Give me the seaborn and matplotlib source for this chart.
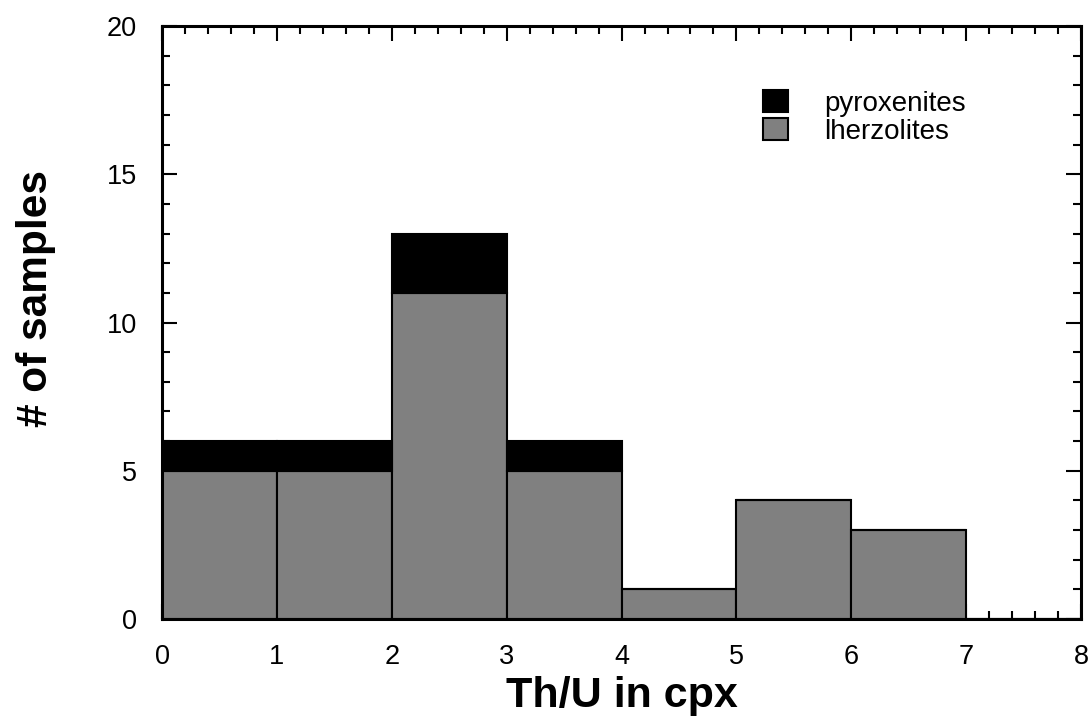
import numpy as np
import pandas as pd
import matplotlib
matplotlib.use("Agg")
import matplotlib.pyplot as plt
import seaborn as sns
from matplotlib.patches import Patch
from matplotlib.ticker import MultipleLocator

bin_left = [0, 1, 2, 3, 4, 5, 6, 7]
lherzolites = [5, 5, 11, 5, 1, 4, 3, 0]
pyroxenites = [1, 1, 2, 1, 0, 0, 0, 0]
groups = ["pyroxenites", "lherzolites"]
colors = {"pyroxenites": "#000000", "lherzolites": "#808080"}

centers = np.array(bin_left) + 0.5
df = pd.DataFrame({
    "x": np.concatenate([np.repeat(centers, lherzolites), np.repeat(centers, pyroxenites)]),
    "g": ["lherzolites"] * sum(lherzolites) + ["pyroxenites"] * sum(pyroxenites),
})

sns.set_style("white")
plt.rcParams["font.family"] = ["Liberation Sans", "DejaVu Sans"]
plt.rcParams["text.color"] = "black"
plt.rcParams["axes.labelcolor"] = "black"
plt.rcParams["xtick.color"] = "black"
plt.rcParams["ytick.color"] = "black"

fig = plt.figure(figsize=(10.92, 7.24), dpi=100)
ax = fig.add_axes([0.1484, 0.145, 0.8416, 0.819])
sns.histplot(data=df, x="x", hue="g", hue_order=groups,
             bins=8, binrange=(0, 8), multiple="stack", palette=colors,
             alpha=1, edgecolor="black", linewidth=1.5, ax=ax, legend=False)

ax.set_xlim(0, 8)
ax.set_ylim(0, 20)
ax.xaxis.set_major_locator(MultipleLocator(1))
ax.xaxis.set_minor_locator(MultipleLocator(0.2))
ax.yaxis.set_major_locator(MultipleLocator(5))
ax.yaxis.set_minor_locator(MultipleLocator(1))
ax.tick_params(which="both", direction="in", top=True, right=True,
               bottom=True, left=True, color="black", width=1.5)
ax.tick_params(which="major", length=11, labelsize=19.5)
ax.tick_params(axis="x", which="major", pad=18)
ax.tick_params(axis="y", which="major", pad=18)
ax.tick_params(which="minor", length=5.5)
for s in ax.spines.values():
    s.set_linewidth(2.2)
    s.set_color("black")

ax.set_xlabel("Th/U in cpx", fontsize=31, fontweight="bold", labelpad=4)
ax.set_ylabel("# of samples", fontsize=30.5, fontweight="bold")
ax.yaxis.set_label_coords(-0.1153, 0.540)

handles = [Patch(facecolor=colors[g], edgecolor="black", linewidth=1.5, label=g) for g in groups]
ax.legend(handles=handles, loc="upper left", bbox_to_anchor=(0.654, 0.892),
          frameon=False, fontsize=20, handlelength=0.9, handleheight=0.85,
          handletextpad=1.3, labelspacing=0.05, borderaxespad=0, borderpad=0)

fig.savefig("out.png", dpi=100)
